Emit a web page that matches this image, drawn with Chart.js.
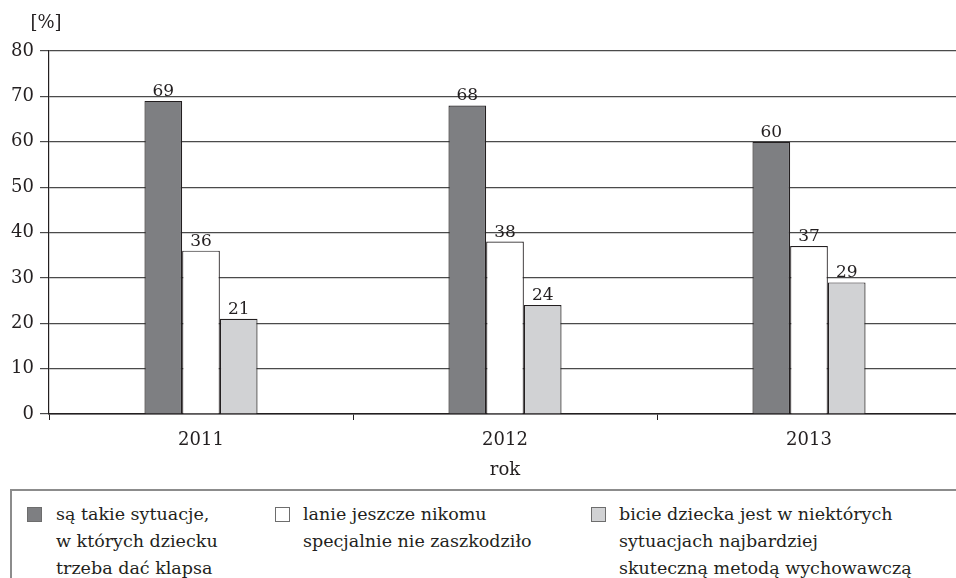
<!DOCTYPE html>
<html>
<head>
    <meta charset="utf-8">
    <title>Klapsy</title>
    <script src="https://cdn.jsdelivr.net/npm/chart.js"></script>
    <style>
        body {
            margin: 0;
            width: 956px;
            height: 578px;
            overflow: hidden;
            background: #fff;
            font-family: "DejaVu Serif", serif;
            color: #231f20;
        }
        .chart-box {
            position: absolute;
            left: 0;
            top: 0;
            width: 961px;
            height: 485px;
        }
        .legend {
            position: absolute;
            left: 10px;
            top: 489px;
            width: 980px;
            height: 120px;
            border: 2px solid #8c8c8c;
        }
        .item {
            position: absolute;
            top: 10px;
            font-size: 17.5px;
            line-height: 27px;
        }
        .item .sw {
            position: absolute;
            left: 0;
            top: 6px;
            width: 13px;
            height: 13px;
            border: 1px solid #6d6d6d;
        }
        .item .txt {
            position: absolute;
            white-space: nowrap;
        }
    </style>
</head>
<body>
    <div class="chart-box">
        <canvas id="chart" width="961" height="485"></canvas>
    </div>
    <div class="legend" id="legend"></div>

    <script>
        const years = ['2011', '2012', '2013'];
        const yTicks = [0, 10, 20, 30, 40, 50, 60, 70, 80];

        const seriesNames = [
            ['są takie sytuacje,', 'w których dziecku', 'trzeba dać klapsa'],
            ['lanie jeszcze nikomu', 'specjalnie nie zaszkodziło'],
            ['bicie dziecka jest w niektórych', 'sytuacjach najbardziej', 'skuteczną metodą wychowawczą']
        ];
        const klaps = [69, 68, 60];
        const lanie = [36, 38, 37];
        const bicie = [21, 24, 29];

        const fills = ['#7e7f82', '#ffffff', '#d1d2d4'];
        const ink = '#231f20';
        const serif = '"DejaVu Serif", serif';

        // legend as plain html under the chart
        const legendX = [15, 263, 579];
        const legendEl = document.getElementById('legend');
        seriesNames.forEach((lines, i) => {
            const item = document.createElement('div');
            item.className = 'item';
            item.style.left = legendX[i] + 'px';
            item.innerHTML = '<div class="sw" style="background:' + fills[i] + '"></div>' +
                '<div class="txt" style="left:' + (i === 0 ? 29 : 28) + 'px">' + lines.join('<br>') + '</div>';
            legendEl.appendChild(item);
        });

        const extras = {
            id: 'extras',
            afterDatasetsDraw(chart) {
                const ctx = chart.ctx;
                ctx.save();
                ctx.fillStyle = ink;
                ctx.font = '17px ' + serif;
                ctx.textAlign = 'center';
                ctx.textBaseline = 'alphabetic';
                chart.data.datasets.forEach((ds, i) => {
                    chart.getDatasetMeta(i).data.forEach((bar, j) => {
                        ctx.fillText(String(ds.data[j]), bar.x, bar.y - 5);
                    });
                });
                ctx.font = '18px ' + serif;
                ctx.textBaseline = 'middle';
                ctx.fillText('[%]', 46, 23);
                ctx.restore();
            }
        };

        new Chart(document.getElementById('chart'), {
            type: 'bar',
            data: {
                labels: years,
                datasets: [klaps, lanie, bicie].map((vals, i) => ({
                    label: seriesNames[i].join(' '),
                    data: vals,
                    backgroundColor: fills[i],
                    borderColor: ink,
                    borderWidth: 1.2,
                    categoryPercentage: 0.372,
                    barPercentage: 1
                }))
            },
            options: {
                responsive: false,
                animation: false,
                layout: { padding: { top: 51, right: 0, left: 0, bottom: 0 } },
                plugins: {
                    legend: { display: false },
                    tooltip: { enabled: false }
                },
                scales: {
                    x: {
                        afterFit(scale) { scale.height = 71; },
                        grid: {
                            offset: true,
                            drawOnChartArea: false,
                            drawTicks: true,
                            tickLength: 6,
                            color: ink
                        },
                        border: { color: ink, width: 1.5 },
                        ticks: {
                            color: ink,
                            padding: 10,
                            font: { family: serif, size: 18 }
                        },
                        title: {
                            display: true,
                            text: 'rok',
                            color: ink,
                            font: { family: serif, size: 18 },
                            padding: { top: 0, bottom: 4 }
                        }
                    },
                    y: {
                        min: 0,
                        max: 80,
                        afterFit(scale) { scale.width = 49; },
                        afterBuildTicks(scale) {
                            scale.ticks = yTicks.map(v => ({ value: v }));
                        },
                        grid: {
                            color: '#4a4a4a',
                            lineWidth: 1.2,
                            tickLength: 9
                        },
                        border: { color: ink, width: 1.2 },
                        ticks: {
                            color: ink,
                            padding: 6,
                            font: { family: serif, size: 18 }
                        }
                    }
                }
            },
            plugins: [extras]
        });
    </script>
</body>
</html>
